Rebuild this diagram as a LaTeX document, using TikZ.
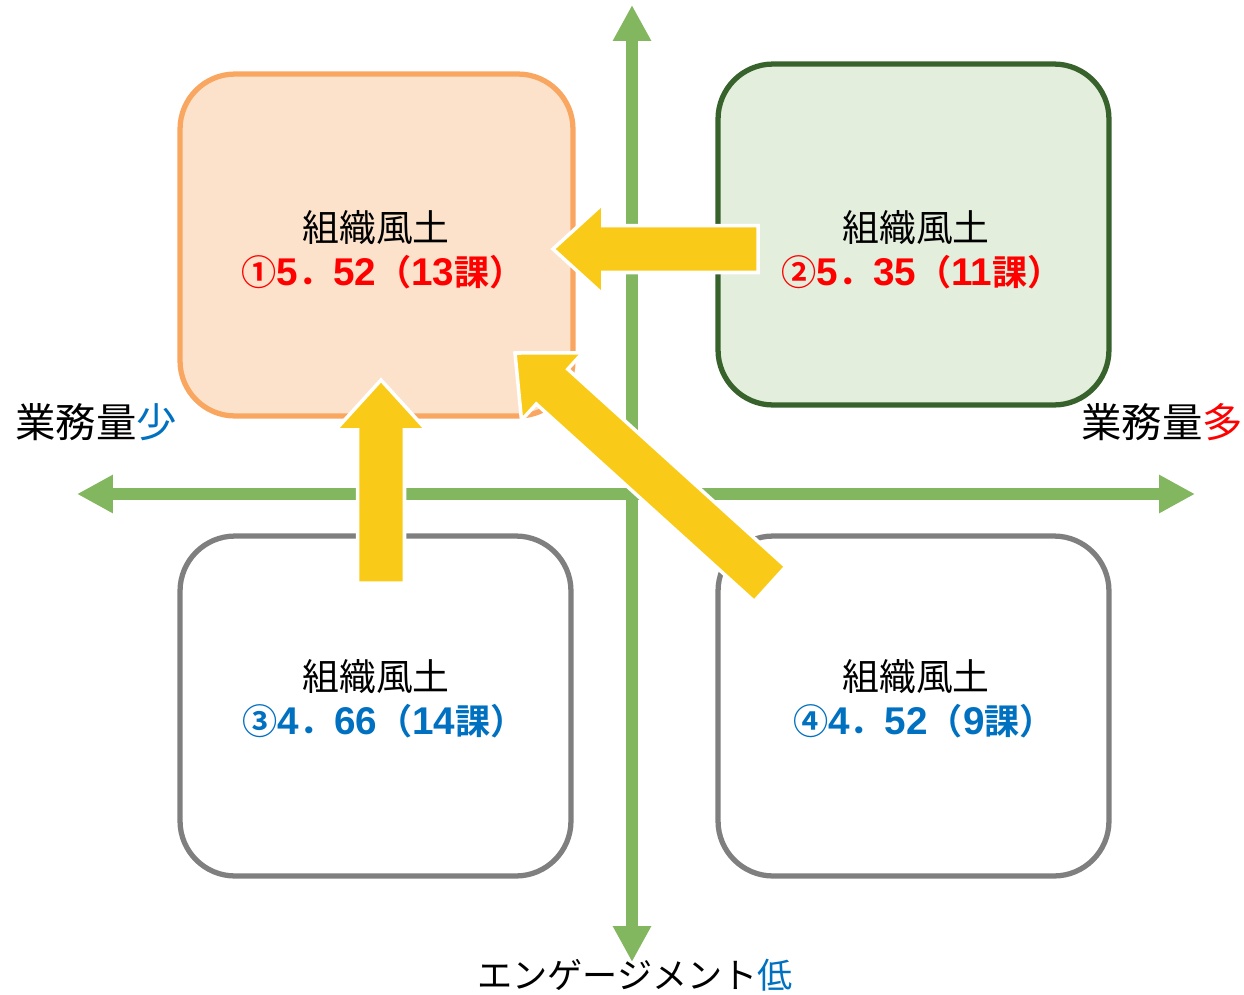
\documentclass[tikz,border=0pt]{standalone}
\usepackage{fontspec}
\setmainfont{Noto Sans CJK JP}[BoldFont={Noto Sans CJK JP Bold}]
\newfontfamily\numfont{Liberation Sans}
\usetikzlibrary{calc,arrows.meta}
\definecolor{orfill}{HTML}{FCE2CB}
\definecolor{ordraw}{HTML}{F9A760}
\definecolor{grfill}{HTML}{E3EFDC}
\definecolor{grdraw}{HTML}{37622B}
\definecolor{boxgray}{HTML}{7F7F7F}
\definecolor{axisgreen}{HTML}{82B65F}
\definecolor{yarrow}{HTML}{F9CB18}
\definecolor{vred}{HTML}{FF0000}
\definecolor{vblue}{HTML}{0070C0}
\newcommand{\dg}[1]{{\numfont\fontsize{22}{24}\selectfont\bfseries #1}}
\newcommand{\blockarrow}[3]{%
  \coordinate (#3h) at ($(#2)!1cm!(#1)$);
  \filldraw[bigarrow] (#2) -- ($(#3h)!0.91cm!90:(#1)$) -- ($(#3h)!0.47cm!90:(#1)$)
    -- ($(#1)!0.47cm!-90:(#3h)$) -- ($(#1)!0.47cm!90:(#3h)$)
    -- ($(#3h)!0.47cm!-90:(#1)$) -- ($(#3h)!0.91cm!-90:(#1)$) -- cycle;
}
\begin{document}
\begin{tikzpicture}[x=0.02cm,y=-0.02cm,
  quad/.style={rounded corners=1.1cm, line width=3pt, inner sep=0pt},
  axis/.style={draw=axisgreen, line width=6.8pt, -{Triangle[length=0.72cm,width=0.72cm]}},
  bigarrow/.style={fill=yarrow, draw=white, line width=2pt, line join=miter},
  ttl/.style={font=\fontsize{21}{24}\selectfont, inner sep=0pt},
  val/.style={font=\fontsize{20}{24}\selectfont\bfseries, inner sep=0pt},
  axlbl/.style={font=\fontsize{23}{26}\selectfont, inner sep=0pt}]
\useasboundingbox (0,0) rectangle (1244,994);

% quadrant boxes
\node[quad, draw=ordraw, fill=orfill, minimum width=7.86cm, minimum height=6.84cm] (q1) at (376.5,245) {};
\node[quad, draw=grdraw, fill=grfill, minimum width=7.82cm, minimum height=6.82cm] (q2) at (913.5,234.5) {};
\node[quad, draw=boxgray, fill=white, minimum width=7.82cm, minimum height=6.8cm] (q3) at (375.5,706) {};
\node[quad, draw=boxgray, fill=white, minimum width=7.82cm, minimum height=6.8cm] (q4) at (913.5,706) {};

% axes
\coordinate (axTop) at (632,5);
\coordinate (axBot) at (632,962);
\coordinate (axL) at (77,494);
\coordinate (axR) at (1195,494);
\coordinate (axC) at (632,494);
\draw[axis] (axC) -- (axTop);
\draw[axis] (axC) -- (axBot);
\draw[axis] (axC) -- (axL);
\draw[axis] (axC) -- (axR);

% block arrows
\coordinate (aTail) at (758,249);
\coordinate (aTip) at (553,249);
\coordinate (bTail) at (381,583);
\coordinate (bTip) at (381,380);
\coordinate (cTail) at (770,584);
\coordinate (cTip) at (515,353);
\blockarrow{aTail}{aTip}{ah}
\blockarrow{bTail}{bTip}{bh}
\blockarrow{cTail}{cTip}{ch}

% texts
\node[ttl] (t1) at (376,228) {組織風土};
\node[val, text=vred] (v1) at (383,272) {①\dg{5}．\dg{52}（\dg{13}課）};
\node[ttl] (t2) at (916,228) {組織風土};
\node[val, text=vred] (v2) at (922,272) {②\dg{5}．\dg{35}（\dg{11}課）};
\node[ttl] (t3) at (376,677) {組織風土};
\node[val, text=vblue] (v3) at (384,721) {③\dg{4}．\dg{66}（\dg{14}課）};
\node[ttl] (t4) at (916,677) {組織風土};
\node[val, text=vblue] (v4) at (924,721) {④\dg{4}．\dg{52}（\dg{9}課）};

\node[axlbl] (lblL) at (96,422) {業務量\textcolor{vblue}{少}};
\node[axlbl] (lblR) at (1162,422) {業務量\textcolor{vred}{多}};
\node[font=\fontsize{20}{24}\selectfont, inner sep=0pt] (lblB) at (635,975) {エンゲージメント\textcolor{vblue}{低}};
\end{tikzpicture}
\end{document}
